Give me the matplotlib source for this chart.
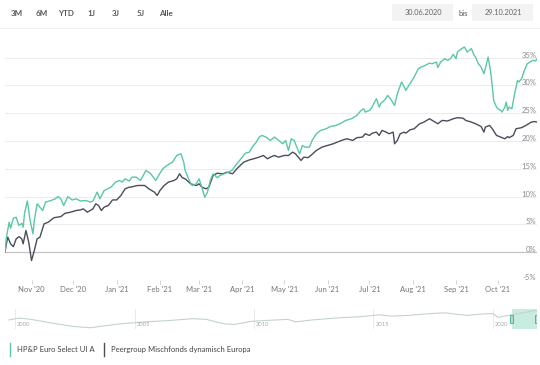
import numpy as np
import pandas as pd
import matplotlib
matplotlib.use("Agg")
import matplotlib.pyplot as plt
import matplotlib.dates as mdates
from matplotlib.lines import Line2D
from matplotlib.patches import Rectangle

plt.rcParams['font.family'] = ['Lato', 'DejaVu Sans']

# --- data (performance in %) ---
fund_dates = [
    '2020-10-13', '2020-10-14', '2020-10-16', '2020-10-17', '2020-10-19', '2020-10-21', '2020-10-23',
    '2020-10-25', '2020-10-26', '2020-10-27', '2020-10-29', '2020-10-31', '2020-11-02', '2020-11-03',
    '2020-11-05', '2020-11-07', '2020-11-09', '2020-11-11', '2020-11-15', '2020-11-18', '2020-11-20',
    '2020-11-22', '2020-11-24', '2020-11-27', '2020-11-30', '2020-12-03', '2020-12-06', '2020-12-10',
    '2020-12-13', '2020-12-15', '2020-12-18', '2020-12-20', '2020-12-23', '2020-12-28', '2020-12-31',
    '2021-01-03', '2021-01-05', '2021-01-07', '2021-01-10', '2021-01-12', '2021-01-15', '2021-01-18',
    '2021-01-22', '2021-01-25', '2021-01-29', '2021-01-31', '2021-02-03', '2021-02-06', '2021-02-10',
    '2021-02-13', '2021-02-16', '2021-02-18', '2021-02-19', '2021-02-22', '2021-02-24', '2021-02-27',
    '2021-03-01', '2021-03-03', '2021-03-05', '2021-03-07', '2021-03-09', '2021-03-11', '2021-03-14',
    '2021-03-16', '2021-03-19', '2021-03-22', '2021-03-25', '2021-03-27', '2021-03-31', '2021-04-03',
    '2021-04-06', '2021-04-08', '2021-04-11', '2021-04-13', '2021-04-15', '2021-04-18', '2021-04-21',
    '2021-04-24', '2021-04-27', '2021-04-30', '2021-05-02', '2021-05-04', '2021-05-06', '2021-05-08',
    '2021-05-10', '2021-05-12', '2021-05-14', '2021-05-16', '2021-05-19', '2021-05-21', '2021-05-24',
    '2021-05-27', '2021-05-31', '2021-06-03', '2021-06-07', '2021-06-10', '2021-06-14', '2021-06-18',
    '2021-06-20', '2021-06-22', '2021-06-25', '2021-06-27', '2021-06-28', '2021-07-01', '2021-07-03',
    '2021-07-04', '2021-07-06', '2021-07-08', '2021-07-09', '2021-07-12', '2021-07-14', '2021-07-16',
    '2021-07-19', '2021-07-21', '2021-07-24', '2021-07-26', '2021-07-27', '2021-07-30', '2021-08-02',
    '2021-08-05', '2021-08-07', '2021-08-10', '2021-08-13', '2021-08-15', '2021-08-18', '2021-08-19',
    '2021-08-21', '2021-08-24', '2021-08-26', '2021-08-28', '2021-08-30', '2021-09-01', '2021-09-02',
    '2021-09-05', '2021-09-07', '2021-09-09', '2021-09-12', '2021-09-14', '2021-09-15', '2021-09-17',
    '2021-09-19', '2021-09-21', '2021-09-22', '2021-09-24', '2021-09-26', '2021-09-28', '2021-09-30',
    '2021-10-01', '2021-10-03', '2021-10-04', '2021-10-06', '2021-10-07', '2021-10-08', '2021-10-09',
    '2021-10-11', '2021-10-13', '2021-10-15', '2021-10-16', '2021-10-18', '2021-10-20', '2021-10-22',
    '2021-10-24', '2021-10-26', '2021-10-28', '2021-10-29']
fund_vals = [
    0.0, 2.7, 5.4, 4.3, 6.1, 6.3, 4.8,
    5.2, 4.5, 7.0, 9.2, 5.7, 3.3, 5.7,
    8.7, 8.1, 7.5, 9.0, 9.3, 9.6, 10.0,
    9.6, 8.4, 10.0, 9.4, 9.6, 9.2, 9.3,
    9.0, 9.2, 10.8, 9.6, 11.1, 11.7, 12.6,
    12.9, 12.6, 13.2, 12.8, 13.5, 13.5, 12.9,
    14.7, 14.2, 12.9, 13.8, 15.0, 15.6, 16.2,
    17.4, 17.7, 16.2, 14.7, 12.9, 12.0, 12.3,
    13.2, 11.7, 9.9, 10.8, 12.9, 14.1, 13.4,
    13.8, 14.1, 14.4, 14.8, 15.6, 16.8, 17.8,
    18.0, 18.9, 19.8, 20.7, 21.0, 20.7, 20.1,
    20.7, 20.1, 19.5, 20.1, 18.3, 20.4, 20.1,
    18.9, 17.7, 19.2, 18.9, 18.9, 20.1, 21.3,
    21.9, 22.2, 22.6, 22.8, 23.1, 23.7, 24.0,
    24.3, 24.6, 25.5, 25.8, 25.2, 25.5, 26.1,
    26.7, 27.6, 26.1, 26.7, 27.4, 28.2, 27.6,
    26.4, 28.5, 30.6, 29.7, 29.1, 30.3, 31.5,
    33.0, 33.3, 33.6, 34.0, 33.9, 34.2, 33.2,
    34.2, 34.8, 34.5, 34.8, 35.6, 34.8, 36.0,
    36.6, 36.9, 36.0, 36.6, 35.4, 35.1, 33.9,
    33.3, 32.1, 33.0, 35.1, 32.1, 27.3, 26.1,
    25.8, 25.5, 25.2, 26.1, 27.0, 25.5, 26.1,
    25.8, 28.5, 30.9, 30.6, 31.2, 32.7, 33.9,
    34.2, 34.5, 34.4, 34.8]

peer_dates = [
    '2020-10-13', '2020-10-14', '2020-10-15', '2020-10-17', '2020-10-19', '2020-10-21', '2020-10-23',
    '2020-10-25', '2020-10-26', '2020-10-28', '2020-10-30', '2020-11-01', '2020-11-03', '2020-11-05',
    '2020-11-07', '2020-11-10', '2020-11-13', '2020-11-17', '2020-11-22', '2020-11-25', '2020-11-29',
    '2020-12-03', '2020-12-06', '2020-12-08', '2020-12-11', '2020-12-15', '2020-12-17', '2020-12-19',
    '2020-12-21', '2020-12-23', '2020-12-26', '2020-12-29', '2021-01-01', '2021-01-04', '2021-01-07',
    '2021-01-10', '2021-01-11', '2021-01-16', '2021-01-21', '2021-01-24', '2021-01-28', '2021-01-30',
    '2021-02-01', '2021-02-04', '2021-02-07', '2021-02-11', '2021-02-13', '2021-02-15', '2021-02-17',
    '2021-02-19', '2021-02-23', '2021-02-27', '2021-03-01', '2021-03-03', '2021-03-06', '2021-03-08',
    '2021-03-11', '2021-03-14', '2021-03-18', '2021-03-21', '2021-03-25', '2021-03-28', '2021-04-02',
    '2021-04-06', '2021-04-09', '2021-04-13', '2021-04-16', '2021-04-19', '2021-04-21', '2021-04-24',
    '2021-04-27', '2021-05-01', '2021-05-04', '2021-05-07', '2021-05-09', '2021-05-12', '2021-05-13',
    '2021-05-15', '2021-05-18', '2021-05-20', '2021-05-24', '2021-05-28', '2021-06-01', '2021-06-05',
    '2021-06-08', '2021-06-12', '2021-06-15', '2021-06-19', '2021-06-22', '2021-06-26', '2021-06-28',
    '2021-07-01', '2021-07-03', '2021-07-06', '2021-07-08', '2021-07-10', '2021-07-13', '2021-07-15',
    '2021-07-18', '2021-07-19', '2021-07-21', '2021-07-23', '2021-07-26', '2021-07-27', '2021-07-30',
    '2021-08-02', '2021-08-06', '2021-08-09', '2021-08-13', '2021-08-15', '2021-08-19', '2021-08-22',
    '2021-08-26', '2021-08-30', '2021-09-02', '2021-09-06', '2021-09-08', '2021-09-12', '2021-09-15',
    '2021-09-19', '2021-09-21', '2021-09-22', '2021-09-25', '2021-09-27', '2021-09-30', '2021-10-03',
    '2021-10-06', '2021-10-08', '2021-10-09', '2021-10-12', '2021-10-14', '2021-10-18', '2021-10-21',
    '2021-10-25', '2021-10-27', '2021-10-29']
peer_vals = [
    0.0, 1.5, 2.7, 1.5, 1.0, 2.4, 2.8,
    2.4, 1.5, 3.9, 1.8, -1.5, 0.3, 2.4,
    2.7, 5.1, 5.4, 6.2, 6.4, 7.0, 7.2,
    7.5, 7.6, 7.8, 7.2, 7.8, 8.7, 8.4,
    7.5, 8.1, 8.4, 9.4, 9.4, 10.2, 11.4,
    11.7, 11.7, 12.0, 12.0, 11.4, 10.8, 10.2,
    11.1, 12.0, 12.6, 12.9, 13.2, 14.1, 13.4,
    13.2, 12.3, 12.0, 12.3, 11.7, 11.4, 11.7,
    13.8, 14.2, 14.1, 14.4, 14.1, 15.0, 16.2,
    16.6, 16.8, 17.1, 17.4, 16.8, 17.1, 17.4,
    17.1, 17.4, 17.4, 18.0, 17.7, 16.8, 16.5,
    17.1, 17.0, 17.4, 18.3, 18.9, 19.2, 19.5,
    19.8, 20.2, 20.4, 20.1, 20.6, 20.7, 21.3,
    21.0, 21.4, 21.6, 21.0, 21.9, 21.6, 21.3,
    21.6, 19.5, 20.1, 21.3, 21.6, 21.4, 22.0,
    22.2, 23.1, 23.4, 24.0, 23.7, 23.1, 23.7,
    23.6, 24.0, 24.2, 24.1, 23.7, 23.4, 23.1,
    22.6, 21.6, 22.5, 22.8, 22.2, 21.0, 20.7,
    20.4, 20.8, 20.6, 21.0, 22.2, 22.4, 22.8,
    23.4, 23.5, 23.4]

# navigator (long history, index)
nav_dates = ['1999-10-01', '2000-03-01', '2000-09-01', '2001-06-01', '2002-06-01', '2003-03-01',
             '2003-09-01', '2004-06-01', '2005-06-01', '2006-06-01', '2007-06-01', '2008-01-01',
             '2008-10-01', '2009-03-01', '2009-12-01', '2010-06-01', '2011-06-01', '2011-10-01',
             '2012-06-01', '2013-06-01', '2014-06-01', '2015-04-01', '2015-10-01', '2016-06-01',
             '2017-06-01', '2018-01-01', '2018-12-01', '2019-06-01', '2020-01-01', '2020-03-20',
             '2020-10-13', '2021-10-29']
nav_vals = [112, 118, 114, 104, 92, 88, 93, 100, 106, 110, 116, 114,
            100, 98, 108, 110, 114, 106, 112, 118, 122, 128, 124, 126,
            132, 134, 126, 130, 132, 120, 128, 142]

ytick_vals = [-5, 0, 5, 10, 15, 20, 25, 30, 35]
month_ticks = ['2020-11-01', '2020-12-01', '2021-01-01', '2021-02-01', '2021-03-01', '2021-04-01',
               '2021-05-01', '2021-06-01', '2021-07-01', '2021-08-01', '2021-09-01', '2021-10-01']
month_labels = ["Nov '20", "Dec '20", "Jan '21", "Feb '21", "Mar '21", "Apr '21",
                "May '21", "Jun '21", "Jul '21", "Aug '21", "Sep '21", "Oct '21"]
nav_years = [2000, 2005, 2010, 2015, 2020]
range_buttons = ['3M', '6M', 'YTD', '1J', '3J', '5J', 'Alle']
series_names = ['HP&P Euro Select UI A', 'Peergroup Mischfonds dynamisch Europa']

TEAL = '#5ac8a4'
GREY = '#4b4d5a'

W, H = 540, 365
fig = plt.figure(figsize=(W / 100, H / 100), dpi=100)

def fx(px):
    return px / W

def fy(py):
    return 1 - py / H

fund_d = pd.to_datetime(fund_dates)
peer_d = pd.to_datetime(peer_dates)

# main chart
ax = fig.add_axes([fx(5), fy(280), fx(532), (280 - 29.8) / H])
ax.set_ylim(-5, 40)
ax.set_xlim(fund_d[0], fund_d[-1])
for v in ytick_vals:
    ax.axhline(v, color='#c4c4c4' if v == 0 else '#ececec', lw=0.9 if v == 0 else 0.7, zorder=0)
    ax.text(0.999, v, f'{v}%', transform=ax.get_yaxis_transform(), ha='right', va='baseline',
            fontsize=5.5, color='#8a8a8a')
ax.plot(peer_d, peer_vals, color=GREY, lw=1.0, zorder=3)
ax.plot(fund_d, fund_vals, color=TEAL, lw=1.0, zorder=4)
ax.set_yticks([])
ax.set_xticks(pd.to_datetime(month_ticks))
ax.set_xticklabels(month_labels)
ax.tick_params(axis='x', length=3, width=0.6, color='#cccccc', labelsize=5.5,
               labelcolor='#777777', pad=1.5)
for s in ax.spines.values():
    s.set_visible(False)

# navigator
nav = fig.add_axes([fx(5), fy(329), fx(532), 20 / H])
nav.set_xlim(pd.Timestamp('1999-08-01'), pd.Timestamp('2021-11-05'))
nav.set_ylim(84, 146)
nav.plot(pd.to_datetime(nav_dates), nav_vals, color='#c3d3cf', lw=0.8)
for yr in nav_years:
    d = pd.Timestamp(f'{yr}-01-01')
    nav.axvline(d, color='#e6e6e6', lw=0.6, zorder=0)
    nav.annotate(str(yr), (d, 0), xycoords=('data', 'axes fraction'), xytext=(1.5, 1.5),
                 textcoords='offset points', fontsize=4.2, color='#aaaaaa', va='bottom')
s0, s1 = mdates.date2num(fund_d[0]), mdates.date2num(fund_d[-1])
nav.add_patch(Rectangle((s0, 0), s1 - s0, 1, transform=nav.get_xaxis_transform(),
                        facecolor='#c9ece1', edgecolor='none', zorder=1))
for sx in (s0, s1):
    nav.add_patch(Rectangle((sx - 28, 0.28), 56, 0.42, transform=nav.get_xaxis_transform(),
                            facecolor='#a9dfcc', edgecolor='#3fb08c', lw=0.6, zorder=5))
nav.set_xticks([])
nav.set_yticks([])
for s in nav.spines.values():
    s.set_visible(False)

# header: range buttons and date fields
for lbl, cx in zip(range_buttons, [17, 42, 66, 91, 116, 141, 166]):
    fig.text(fx(cx), fy(13), lbl, ha='center', va='center', fontsize=5.8,
             color='#5a5a5a', fontweight='bold')
fig.add_artist(Rectangle((fx(392), fy(21)), fx(61), 17 / H, transform=fig.transFigure,
                         facecolor='#f3f3f3', edgecolor='none'))
fig.add_artist(Rectangle((fx(472), fy(21)), fx(61), 17 / H, transform=fig.transFigure,
                         facecolor='#f3f3f3', edgecolor='none'))
fig.text(fx(423), fy(12.5), '30.06.2020', ha='center', va='center', fontsize=5.3, color='#666666')
fig.text(fx(463), fy(13.5), 'bis', ha='center', va='center', fontsize=5.5, color='#555555')
fig.text(fx(503), fy(12.5), '29.10.2021', ha='center', va='center', fontsize=5.3, color='#666666')
fig.add_artist(Line2D([0, 1], [fy(28.3), fy(28.3)], transform=fig.transFigure,
                      color='#f0f0f0', lw=0.8))

# legend
for name, col, bx in zip(series_names, [TEAL, GREY], [10, 104]):
    fig.add_artist(Line2D([fx(bx), fx(bx)], [fy(343), fy(356)], transform=fig.transFigure,
                          color=col, lw=1.0))
    fig.text(fx(bx + 7), fy(349.5), name, ha='left', va='center', fontsize=5.5, color='#444444')

fig.savefig('out.png', dpi=100)
